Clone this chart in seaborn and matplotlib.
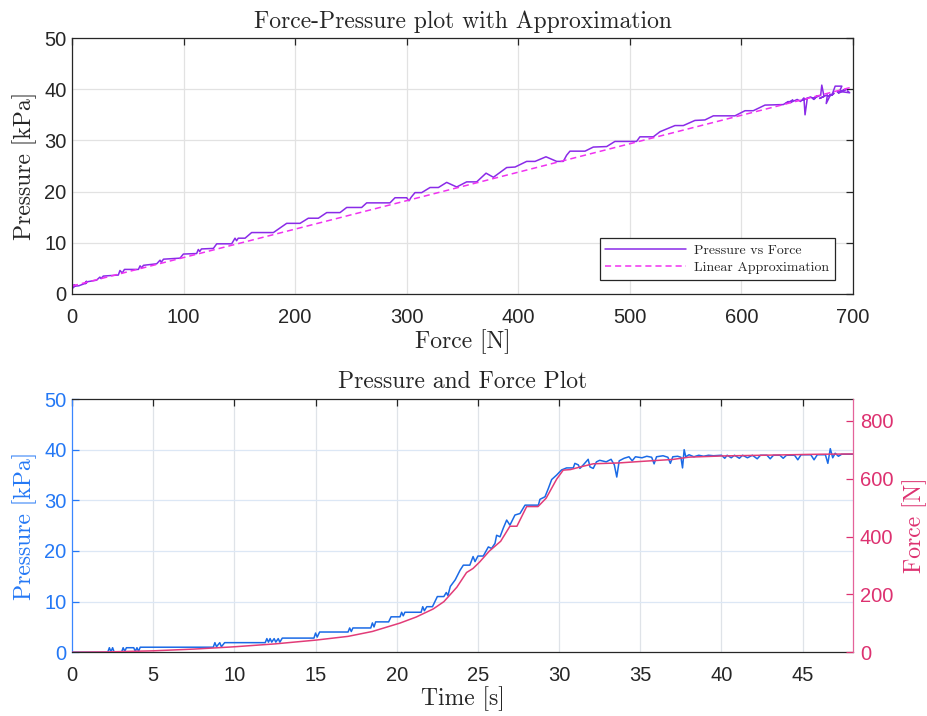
import numpy as np
import pandas as pd
import matplotlib
matplotlib.use("Agg")
import matplotlib.pyplot as plt
import seaborn as sns

# ---------------- data ----------------
# Top: pressure vs force polyline
force_fp = [0, 2, 1, 3, 1.5, 6, 11, 13, 12, 14, 22, 25, 26, 28, 41.5, 43, 45, 47,
            59.5, 61, 62.5, 64, 75.9, 78.9, 80, 82, 96.8, 99.8, 111.7, 113.2, 114.5, 116,
            126.7, 129.7, 143.1, 146.1, 147.5, 149, 155.1, 161, 180.5, 192.4, 204.4,
            211.8, 220.8, 228.3, 240.2, 246.2, 259.6, 264.1, 285, 289.5, 300, 302, 304,
            307.4, 313.4, 320.9, 328.4, 335.8, 344.8, 353.7, 362.7, 371.1, 377.7, 389.6,
            397.1, 407.5, 415, 424.8, 434.4, 440.3, 443.3, 446.3, 459.8, 467.2, 479.2,
            486.6, 506, 509, 521, 527, 540.4, 547.9, 558.3, 567.3, 574.8, 594.2, 603.2,
            610.6, 621.1, 637.5, 642, 640, 646, 644, 650, 653, 656, 657, 659, 655, 662,
            665, 668, 664, 671, 672, 674, 670, 677, 676, 680, 678, 683, 681, 684, 690,
            687, 692, 686, 694, 690, 697, 695]
pressure_fp = [1.3, 1.8, 1.2, 1.7, 1.5, 1.6, 2.0, 2.5, 2.0, 2.4, 2.7, 3.3, 3.0, 3.5, 3.7, 4.6, 4.1, 4.8,
               4.8, 5.5, 5.1, 5.6, 5.9, 6.6, 6.2, 6.8, 7.0, 7.8, 7.9, 8.7, 8.3, 8.8,
               8.9, 9.8, 9.8, 10.9, 10.4, 10.9, 10.9, 12.0, 12.0, 13.8, 13.8,
               14.8, 14.8, 15.9, 15.9, 16.9, 16.9, 17.8, 17.8, 18.8, 18.8, 18.2, 18.9,
               19.8, 19.8, 20.8, 20.8, 21.8, 20.9, 21.9, 21.9, 23.6, 22.8, 24.7,
               24.8, 25.9, 25.9, 26.8, 25.9, 25.9, 27.1, 27.9, 27.9, 28.7, 28.8,
               29.8, 29.8, 30.7, 30.7, 31.7, 32.9, 32.9, 33.9, 34.0, 34.8, 34.8, 35.8,
               35.8, 36.9, 37.0, 37.6, 37.2, 37.9, 37.4, 38.0, 37.6, 38.3, 35.0, 38.2, 37.9, 38.5,
               38.0, 38.7, 38.2, 38.8, 40.8, 38.6, 38.2, 38.9, 37.2, 39.0, 38.6, 39.2, 38.8, 40.6, 40.6,
               39.2, 39.8, 39.4, 40.0, 39.5, 39.3, 39.7]

# Top: linear approximation end points
approx_force = [0, 697]
approx_pressure = [1.56, 40.3]

# Bottom: pressure over time
time_p = [0, 2.2, 2.3, 2.4, 2.5, 2.6, 3.05, 3.15, 3.25, 3.35, 3.8, 3.9, 4.0, 4.1, 4.2,
          8.7, 8.8, 8.9, 9.1, 9.2, 9.4, 11.9, 12.0, 12.1, 12.2, 12.3, 12.45, 12.55, 12.7, 12.8,
          12.95, 14.9, 15.0, 15.1, 15.25, 17.0, 17.1, 17.2, 17.3, 18.4, 18.5, 18.6, 18.7,
          19.5, 19.65, 20.2, 20.3, 20.4, 20.5, 21.5, 21.6, 21.7, 21.85, 22.2, 22.5, 22.9,
          23.05, 23.15, 23.3, 23.6, 23.9, 24.1, 24.5, 24.7, 24.82, 25.0, 25.33, 25.64, 25.84,
          26.05, 26.15, 26.36, 26.56, 26.77, 26.97, 27.28, 27.59, 27.9, 28.72, 28.82, 29.13,
          29.33, 29.54, 29.85, 30.15, 30.46, 30.87, 30.97, 31.18, 31.28, 31.49, 31.79, 31.9,
          32.1, 32.3, 32.5, 32.9, 33.2, 33.4, 33.55, 33.7, 34.0, 34.3, 34.5, 34.7, 35.1, 35.4,
          35.7, 35.85, 36.0, 36.4, 36.7, 36.85, 37.0, 37.3, 37.5, 37.6, 37.7, 37.8, 38.0, 38.3,
          38.6, 38.9, 39.2, 39.5, 40.0, 40.2, 40.35, 40.6, 40.8, 41.1, 41.3, 41.6, 41.9, 42.2,
          42.4, 42.8, 43.0, 43.2, 43.6, 43.8, 44.0, 44.5, 44.7, 44.9, 45.5, 45.7, 45.9, 46.4,
          46.55, 46.7, 46.85, 47.0, 47.2, 47.4, 48.1]
pressure_t = [0, 0, 0.9, 0.1, 0.9, 0, 0, 0.9, 0.2, 0.9, 0.9, 0.2, 0.9, 0.2, 1.0,
              1.0, 1.9, 1.1, 1.9, 1.1, 1.9, 1.9, 2.7, 2.0, 2.7, 2.0, 2.7, 2.0, 2.7, 2.0,
              2.8, 2.8, 3.8, 3.0, 4.0, 4.0, 4.8, 4.1, 4.8, 4.8, 5.8, 5.0, 6.0,
              6.0, 7.0, 7.0, 7.9, 7.2, 7.9, 7.9, 9.0, 8.2, 9.0, 9.0, 11.0, 11.0,
              11.8, 11.2, 13.0, 14.3, 16.2, 17.2, 17.2, 18.9, 17.9, 19.0, 19.0, 20.8, 20.5,
              21.5, 23.1, 22.8, 24.5, 26.1, 25.1, 27.1, 27.4, 29.05, 29.05, 30.2, 30.7,
              32.3, 34.1, 35.0, 36.0, 36.4, 36.4, 37.3, 37.0, 36.3, 37.0, 38.1, 36.6,
              36.3, 37.6, 37.9, 37.6, 38.1, 37.0, 34.6, 37.8, 38.3, 38.6, 37.8, 38.6, 38.4, 38.7,
              38.5, 37.2, 38.6, 38.8, 38.5, 37.3, 38.6, 38.7, 38.5, 36.4, 40.0, 38.6, 39.0, 38.6,
              38.9, 38.7, 38.9, 38.8, 38.9, 38.3, 38.9, 38.4, 38.9, 38.3, 38.9, 38.4, 38.9, 38.2,
              38.9, 38.9, 38.2, 38.9, 38.9, 38.3, 38.9, 38.9, 38.0, 39.0, 39.0, 38.0, 39.0, 39.0,
              37.3, 40.2, 38.4, 39.3, 38.7, 39.1, 39.1]

# Bottom: force over time
time_f = [0, 2, 5, 7.5, 10, 12.5, 15, 17, 18.5, 20.2, 21.2, 22.25, 22.9, 23.7, 24.3, 24.7,
          25.1, 25.7, 26.4, 26.97, 27.4, 28.0, 28.7, 29.2, 29.85, 30.25, 30.7, 31.3, 32.1,
          33.7, 35, 37, 38, 40, 42, 44, 46, 48.1]
force_t = [0, 1, 5, 11, 19, 29, 42, 55, 72, 101, 122, 150, 175, 225, 276, 290,
           312, 350, 384, 436, 436, 504, 504, 533, 599, 630, 632, 641, 652,
           655, 660, 667, 675, 679, 681, 683, 685, 686]

x_ticks_top = [0, 100, 200, 300, 400, 500, 600, 700]
y_ticks_p = [0, 10, 20, 30, 40, 50]
x_ticks_time = [0, 5, 10, 15, 20, 25, 30, 35, 40, 45]
y_ticks_force = [0, 200, 400, 600, 800]

# ---------------- style ----------------
sns.set_style("white")
plt.rcParams["font.family"] = ["Liberation Sans", "DejaVu Sans"]
plt.rcParams["axes.unicode_minus"] = False

serif = "cmr10"
purple = "#8a2be8"
magenta = "#f032f0"
blue_line = "#1a6ae6"
blue_txt = "#2478f5"
red_line = "#e23c78"
red_txt = "#dd3170"
dark = "#262626"
TICK = 14.5
LAB = 17

fig = plt.figure(figsize=(9.28, 7.16), dpi=100)
ax1 = fig.add_axes([0.0776, 0.5894, 0.8416, 0.3575])
ax2 = fig.add_axes([0.0776, 0.0890, 0.8416, 0.3537])

# ---------------- top plot ----------------
top_df = pd.DataFrame({"force": force_fp, "pressure": pressure_fp})
appr_df = pd.DataFrame({"force": approx_force, "pressure": approx_pressure})
sns.lineplot(data=top_df, x="force", y="pressure", ax=ax1, sort=False, estimator=None,
             color=purple, lw=1.1, label="Pressure vs Force")
sns.lineplot(data=appr_df, x="force", y="pressure", ax=ax1, sort=False, estimator=None,
             color=magenta, lw=1.1, label="Linear Approximation")
ax1.lines[-1].set_dashes([4, 2.6])

ax1.set_xlim(0, 700)
ax1.set_ylim(0, 50)
ax1.set_xticks(x_ticks_top)
ax1.set_yticks(y_ticks_p)
ax1.grid(True, color="#e2e2e2", lw=0.9)
ax1.set_axisbelow(True)
ax1.tick_params(direction="in", top=True, right=True, length=5, width=0.9,
                labelsize=TICK, colors=dark)
ax1.tick_params(axis="x", pad=10)
ax1.tick_params(axis="y", pad=4)
for s in ax1.spines.values():
    s.set_color(dark)
    s.set_linewidth(0.9)
ax1.set_title("Force-Pressure plot with Approximation", fontfamily=serif, fontsize=LAB, pad=7)
ax1.set_xlabel("Force [N]", fontfamily=serif, fontsize=LAB, labelpad=2)
ax1.set_ylabel("Pressure [kPa]", fontfamily=serif, fontsize=LAB, labelpad=5)
leg = ax1.legend(loc="lower right", bbox_to_anchor=(0.977, 0.055), borderaxespad=0,
                 prop={"family": serif, "size": 10}, frameon=True, fancybox=False,
                 edgecolor=dark, framealpha=1, handlelength=5.8, borderpad=0.4,
                 labelspacing=0.35, handletextpad=0.6)
leg.get_frame().set_linewidth(0.9)

# ---------------- bottom plot ----------------
p_df = pd.DataFrame({"time": time_p, "pressure": pressure_t})
f_df = pd.DataFrame({"time": time_f, "force": force_t})
sns.lineplot(data=p_df, x="time", y="pressure", ax=ax2, sort=False, estimator=None,
             color=blue_line, lw=1.1)
ax3 = ax2.twinx()
sns.lineplot(data=f_df, x="time", y="force", ax=ax3, sort=False, estimator=None,
             color=red_line, lw=1.1)

ax2.set_xlim(0, 48.1)
ax2.set_ylim(0, 50)
ax3.set_ylim(0, 876)
ax2.set_xticks(x_ticks_time)
ax2.set_yticks(y_ticks_p)
ax3.set_yticks(y_ticks_force)

ax2.grid(False)
ax3.grid(False)
ax2.set_axisbelow(True)
for xv in x_ticks_time[1:]:
    ax2.axvline(xv, color="#dfe3e8", lw=0.9, zorder=0)
for yv in y_ticks_p[1:-1]:
    ax2.axhline(yv, color="#dce7f5", lw=0.9, zorder=0)

ax2.tick_params(axis="x", direction="in", top=True, length=5, width=0.9,
                labelsize=TICK, colors=dark, pad=10)
ax2.tick_params(axis="y", direction="in", left=True, right=False, length=5, width=0.9,
                labelsize=TICK, colors=blue_txt, pad=4)
ax3.tick_params(axis="y", direction="in", right=True, length=5, width=0.9,
                labelsize=TICK, colors=red_txt, pad=5)
for name in ["top", "bottom"]:
    ax2.spines[name].set_color(dark)
    ax2.spines[name].set_linewidth(0.9)
ax2.spines["left"].set_color("#3a86ff")
ax2.spines["left"].set_linewidth(0.9)
ax2.spines["right"].set_visible(False)
ax3.spines["right"].set_color("#e4639a")
ax3.spines["right"].set_linewidth(0.9)
for name in ["top", "bottom", "left"]:
    ax3.spines[name].set_visible(False)

ax2.set_title("Pressure and Force Plot", fontfamily=serif, fontsize=LAB, pad=8)
ax2.set_xlabel("Time [s]", fontfamily=serif, fontsize=LAB, labelpad=1)
ax2.set_ylabel("Pressure [kPa]", fontfamily=serif, fontsize=LAB, color=blue_txt, labelpad=5)
ax3.set_ylabel("Force [N]", fontfamily=serif, fontsize=LAB, color=red_txt, labelpad=6)

fig.savefig("out.png", dpi=100)
